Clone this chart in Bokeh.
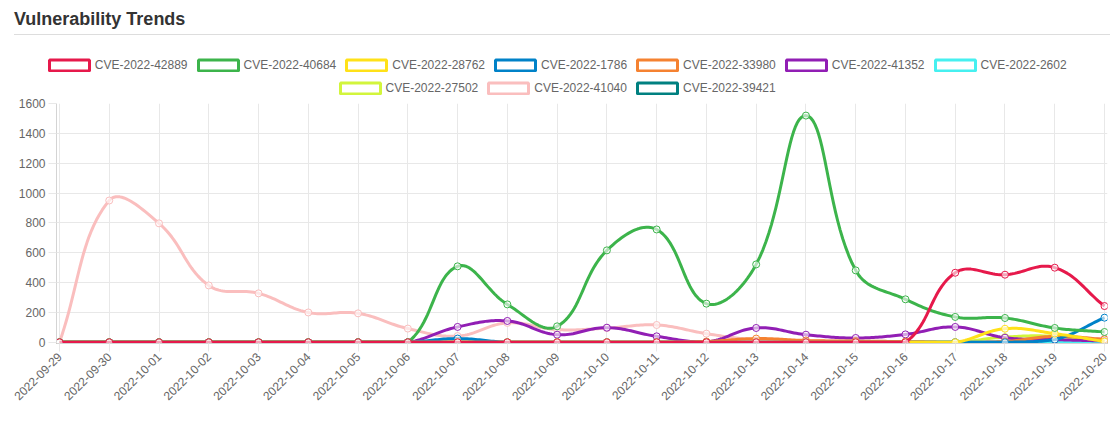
import numpy as np
from bokeh.plotting import figure
from bokeh.models import Legend, LegendItem, FixedTicker, Div
from bokeh.layouts import column
from bokeh.embed import file_html
from bokeh.resources import INLINE

dates = ["2022-09-29", "2022-09-30", "2022-10-01", "2022-10-02", "2022-10-03",
         "2022-10-04", "2022-10-05", "2022-10-06", "2022-10-07", "2022-10-08",
         "2022-10-09", "2022-10-10", "2022-10-11", "2022-10-12", "2022-10-13",
         "2022-10-14", "2022-10-15", "2022-10-16", "2022-10-17", "2022-10-18",
         "2022-10-19", "2022-10-20"]

names = ["CVE-2022-42889", "CVE-2022-40684", "CVE-2022-28762", "CVE-2022-1786",
         "CVE-2022-33980", "CVE-2022-41352", "CVE-2022-2602", "CVE-2022-27502",
         "CVE-2022-41040", "CVE-2022-39421"]
colors = ["#e6194b", "#3cb44b", "#ffe119", "#0082c8", "#f58231", "#911eb4",
          "#46f0f0", "#d2f53c", "#fabebe", "#008080"]

cve_42889 = [0, 0, 0, 0, 0, 0, 0, 0, 0, 0, 0, 0, 0, 0, 0, 0, 0, 0, 466, 453, 500, 243]
cve_40684 = [0, 0, 0, 0, 0, 0, 0, 0, 509, 254, 107, 616, 756, 259, 522, 1519, 482, 288, 170, 163, 96, 69]
cve_28762 = [0, 0, 0, 0, 0, 0, 0, 0, 0, 0, 0, 0, 0, 0, 0, 0, 0, 0, 0, 91, 58, 5]
cve_1786 = [0, 0, 0, 0, 0, 0, 0, 0, 25, 0, 0, 0, 0, 0, 0, 0, 0, 0, 0, 0, 18, 165]
cve_33980 = [0, 0, 0, 0, 0, 0, 0, 0, 0, 0, 0, 0, 0, 5, 25, 12, 8, 5, 0, 5, 40, 20]
cve_41352 = [0, 0, 0, 0, 0, 0, 0, 0, 103, 143, 51, 98, 40, 3, 96, 51, 29, 53, 103, 31, 18, 9]
cve_2602 = [0] * 22
cve_27502 = [0, 0, 0, 0, 0, 0, 0, 0, 0, 0, 0, 0, 0, 0, 0, 0, 0, 0, 0, 35, 40, 0]
cve_41040 = [0, 950, 797, 381, 328, 200, 194, 92, 42, 130, 85, 95, 116, 58, 15, 10, 5, 5, 0, 0, 10, 25]
cve_39421 = [0] * 22

series = [cve_42889, cve_40684, cve_28762, cve_1786, cve_33980, cve_41352,
          cve_2602, cve_27502, cve_41040, cve_39421]

y_ticks = [0, 200, 400, 600, 800, 1000, 1200, 1400, 1600]

# layout constants (pixels)
PAGE_W = 1110
FRAME_W, FRAME_H = 1051, 240
X_PAD, Y_PAD = 0.06, 8
N = len(dates)
SX = FRAME_W / (N - 1 + 2 * X_PAD)
SY = FRAME_H / (y_ticks[-1] - y_ticks[0] + Y_PAD)
TENSION = 0.4


def smooth(vals, steps=24):
    n = len(vals)
    px = np.arange(n) * SX
    py = np.asarray(vals, float) * SY
    cpp = np.zeros((n, 2))
    cpn = np.zeros((n, 2))
    for i in range(n):
        a, b = max(i - 1, 0), min(i + 1, n - 1)
        d01 = np.hypot(px[i] - px[a], py[i] - py[a])
        d12 = np.hypot(px[b] - px[i], py[b] - py[i])
        tot = d01 + d12
        s01 = d01 / tot if tot else 0.0
        s12 = d12 / tot if tot else 0.0
        fa, fb = TENSION * s01, TENSION * s12
        dx, dy = px[b] - px[a], py[b] - py[a]
        cpp[i] = (px[i] - fa * dx, py[i] - fa * dy)
        cpn[i] = (px[i] + fb * dx, py[i] + fb * dy)
    xmax, ymax = (n - 1) * SX, y_ticks[-1] * SY
    for c in (cpp, cpn):
        c[:, 0] = np.clip(c[:, 0], 0, xmax)
        c[:, 1] = np.clip(c[:, 1], 0, ymax)
    t = np.linspace(0, 1, steps)[:, None]
    out = []
    for i in range(n - 1):
        p0 = np.array([px[i], py[i]])
        p3 = np.array([px[i + 1], py[i + 1]])
        p1, p2 = cpn[i], cpp[i + 1]
        seg = ((1 - t) ** 3) * p0 + 3 * ((1 - t) ** 2) * t * p1 + 3 * (1 - t) * t ** 2 * p2 + t ** 3 * p3
        out.append(seg if i == 0 else seg[1:])
    pts = np.vstack(out)
    return pts[:, 0] / SX, pts[:, 1] / SY


# ---- legend strip (its own small figure so nothing is clipped) ----
LEG_H = 61
lg = figure(frame_width=PAGE_W, frame_height=LEG_H, x_range=(0, 1), y_range=(0, 1),
            x_axis_type=None, y_axis_type=None, output_backend="svg", toolbar_location=None,
            min_border=0, outline_line_color=None, background_fill_color="white",
            border_fill_color="white")
lg.xgrid.visible = False
lg.ygrid.visible = False
items = []
for name, col in zip(names, colors):
    # swatch renderer: one point placed outside the strip's visible range
    r = lg.rect(x=[-5], y=[-5], width=0.1, height=0.1, fill_color="white",
                line_color=col, line_width=3)
    items.append(LegendItem(label=name, renderers=[r]))

leg_style = dict(orientation="horizontal", glyph_width=50, glyph_height=14, label_height=14,
                 label_standoff=1, spacing=5, padding=0, margin=0,
                 label_text_font="Liberation Sans", label_text_font_size="12px",
                 label_text_color="#666666", background_fill_alpha=0, border_line_alpha=0)
lg.add_layout(Legend(items=items[:7], location=(43.8, 23.7), **leg_style))
lg.add_layout(Legend(items=items[7:], location=(334.5, 1.3), **leg_style))

# ---- main chart ----
p = figure(frame_width=FRAME_W, frame_height=FRAME_H,
           x_range=(-X_PAD, N - 1 + X_PAD), y_range=(-Y_PAD, y_ticks[-1]),
           output_backend="svg", toolbar_location=None,
           min_border_left=56, min_border_right=3, min_border_top=7, min_border_bottom=77,
           background_fill_color="white", border_fill_color="white", outline_line_color=None)

p.xgrid.grid_line_color = "#e8e8e8"
p.ygrid.grid_line_color = "#e8e8e8"
p.xaxis.ticker = FixedTicker(ticks=list(range(N)))
p.xaxis.major_label_overrides = {i: d for i, d in enumerate(dates)}
p.xaxis.major_label_orientation = np.pi / 4
p.yaxis.ticker = FixedTicker(ticks=y_ticks)
for ax in (p.xaxis[0], p.yaxis[0]):
    ax.axis_line_color = "#d4d4d4"
    ax.major_tick_line_color = "#e8e8e8"
    ax.major_tick_out = 8
    ax.major_tick_in = 0
    ax.minor_tick_line_color = None
    ax.major_label_text_font = "Liberation Sans"
    ax.major_label_text_font_size = "12px"
    ax.major_label_text_color = "#666666"
    ax.major_label_standoff = 3

x_idx = list(range(N))
for vals, col in reversed(list(zip(series, colors))):
    sx, sy = smooth(vals)
    p.line(sx, sy, line_color=col, line_width=3, line_join="round")
    p.scatter(x_idx, vals, size=7, marker="circle", line_color=col, line_width=1,
              fill_color="white", fill_alpha=0.6)

title = Div(text=('<div style="font-family:\'Liberation Sans\',Arial,sans-serif;font-weight:bold;'
                  'font-size:18px;line-height:20px;color:#333;padding:9px 0 5px 0;'
                  'border-bottom:1px solid #dddddd;margin-left:14px;width:1096px;">'
                  'Vulnerability Trends</div>'),
            width=PAGE_W, height=35, margin=0)

layout = column(title, lg, p, spacing=0)
open("out.html", "w").write(file_html(layout, INLINE))
